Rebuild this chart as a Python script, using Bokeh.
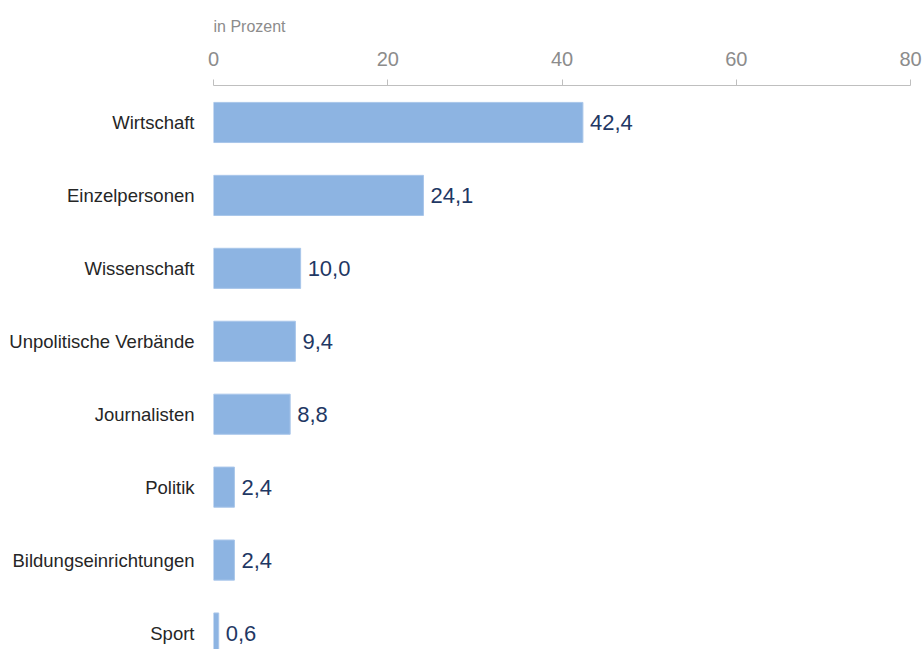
from bokeh.plotting import figure
from bokeh.models import Range1d, FixedTicker, ColumnDataSource
from bokeh.core.properties import value
from bokeh.embed import file_html
from bokeh.resources import INLINE

categories = ["Wirtschaft", "Einzelpersonen", "Wissenschaft", "Unpolitische Verbände",
              "Journalisten", "Politik", "Bildungseinrichtungen", "Sport"]
values = [42.4, 24.1, 10.0, 9.4, 8.8, 2.4, 2.4, 0.6]
x_ticks = [0, 20, 40, 60, 80]
axis_title = "in Prozent"

FONT = "Liberation Sans"

pos = list(range(len(categories)))
labels = [f"{v:.1f}".replace(".", ",") for v in values]
src = ColumnDataSource(dict(y=pos, v=values, lab=labels))

W, H = 924, 649
TOP = 85
p = figure(width=W, height=H, output_backend="svg", toolbar_location=None,
           x_range=Range1d(0, 80), y_range=Range1d(7.226, -0.507),
           x_axis_location="above", title=axis_title,
           min_border_left=213, min_border_right=W - 910, min_border_top=TOP, min_border_bottom=0)

p.title.align = "left"
p.title.text_font = FONT
p.title.text_font_size = "16px"
p.title.text_font_style = "normal"
p.title.text_color = "#8c8c8c"
p.title.text_line_height = 1.0
p.title.standoff = 28

p.hbar(y="y", right="v", left=0, height=0.55, source=src,
       fill_color="#8db4e2", line_color="#a9c6ea", line_width=1)
p.text(x="v", y="y", text="lab", source=src, x_offset=7,
       text_align="left", text_baseline="middle",
       text_font=value(FONT), text_font_size="22px", text_color="#1f3864")

xa = p.xaxis[0]
xa.ticker = FixedTicker(ticks=x_ticks)
xa.major_tick_out = 6
xa.major_tick_in = 0
xa.minor_tick_line_color = None
xa.axis_line_color = "#bfbfbf"
xa.major_tick_line_color = "#bfbfbf"
xa.major_label_text_color = "#8c8c8c"
xa.major_label_text_font = FONT
xa.major_label_text_font_size = "20px"
xa.major_label_standoff = 14

ya = p.yaxis[0]
ya.ticker = FixedTicker(ticks=pos)
ya.major_label_overrides = {i: c for i, c in zip(pos, categories)}
ya.axis_line_color = None
ya.major_tick_line_color = None
ya.minor_tick_line_color = None
ya.major_tick_out = 0
ya.major_tick_in = 0
ya.major_label_standoff = 19
ya.major_label_text_font = FONT
ya.major_label_text_font_size = "18.5px"
ya.major_label_text_color = "#262626"

p.xgrid.grid_line_color = None
p.ygrid.grid_line_color = None
p.outline_line_color = None

open("out.html", "w").write(file_html(p, INLINE))
